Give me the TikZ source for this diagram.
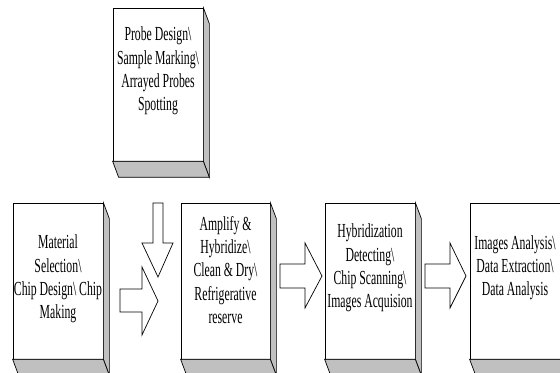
\documentclass[tikz,border=0pt]{standalone}
\usepackage{fontspec}
\newfontfamily\boxfont[FakeStretch=0.59]{Liberation Serif}
\definecolor{sidegray}{RGB}{192,192,192}
\tikzset{
  procbox/.style={draw,rectangle,fill=white,line width=0.7bp,
    minimum width=90bp,minimum height=156bp,inner sep=0pt},
  boxtext/.style={align=center,inner sep=0pt,
    font=\boxfont\fontsize{20}{23.3}\selectfont},
  depthface/.style={draw,fill=sidegray,line width=0.7bp,line join=miter},
  blockarr/.style={draw,fill=white,line width=0.7bp,line join=miter},
}
% side and bottom faces of a box
\newcommand{\boxdepth}[1]{%
  \draw [depthface] (#1.north east) -- ([shift={(6bp,-16bp)}]#1.north east)
    -- ([shift={(6bp,-16bp)}]#1.south east) -- (#1.south east) -- cycle;
  \draw [depthface] (#1.south west) -- (#1.south east)
    -- ([shift={(6bp,-16bp)}]#1.south east) -- ([shift={(6bp,-16bp)}]#1.south west) -- cycle;
}
\begin{document}
\begin{tikzpicture}[>=latex,line join=bevel,]
\useasboundingbox (0bp,0bp) rectangle (560bp,373bp);
\clip (0bp,0bp) rectangle (560bp,373bp);
%%
  \node (Probe) at (158.0bp,288.5bp) [procbox,minimum height=153bp] {};
  \node (Mat) at (58.0bp,92.0bp) [procbox] {};
  \node (Amp) at (225.5bp,92.0bp) [procbox,minimum width=89bp] {};
  \node (Hyb) at (370.0bp,92.0bp) [procbox] {};
  \node (Img) at (515.0bp,92.0bp) [procbox] {};
  \boxdepth{Probe}
  \boxdepth{Mat}
  \boxdepth{Amp}
  \boxdepth{Hyb}
  \boxdepth{Img}
%
  \node (ProbeT) at (Probe.center) [boxtext,yshift=13.5bp] {Probe Design\textbackslash\\Sample Marking\textbackslash\\Arrayed Probes\\Spotting};
  \node (MatT) at (Mat.center) [boxtext,yshift=2bp] {Material\\Selection\textbackslash\\Chip Design\textbackslash{} Chip\\Making};
  \node (AmpT) at (Amp.center) [boxtext,yshift=11bp] {Amplify \&\\Hybridize\textbackslash\\Clean \& Dry\textbackslash\\Refrigerative\\reserve};
  \node (HybT) at (Hyb.center) [boxtext,yshift=13bp] {Hybridization\\Detecting\textbackslash\\Chip Scanning\textbackslash\\Images Acquision};
  \node (ImgT) at (Img.center) [boxtext,yshift=13bp] {Images Analysis\textbackslash\\Data Extraction\textbackslash\\Data Analysis};
%
  \draw [blockarr] (153bp,170bp) -- (163bp,170bp) -- (163bp,130bp) -- (173bp,130bp) -- (158bp,96bp) -- (142bp,130bp) -- (153bp,130bp) -- cycle;
  \draw [blockarr] (120bp,84bp) -- (142bp,84bp) -- (142bp,106bp) -- (158bp,72bp) -- (142bp,38bp) -- (142bp,61bp) -- (120bp,61bp) -- cycle;
  \draw [blockarr] (280bp,109bp) -- (305bp,109bp) -- (305bp,130bp) -- (322bp,97bp) -- (305bp,65bp) -- (305bp,85bp) -- (280bp,85bp) -- cycle;
  \draw [blockarr] (425bp,109bp) -- (450bp,109bp) -- (450bp,130bp) -- (466bp,97bp) -- (450bp,65bp) -- (450bp,85bp) -- (425bp,85bp) -- cycle;
%
\end{tikzpicture}
\end{document}
